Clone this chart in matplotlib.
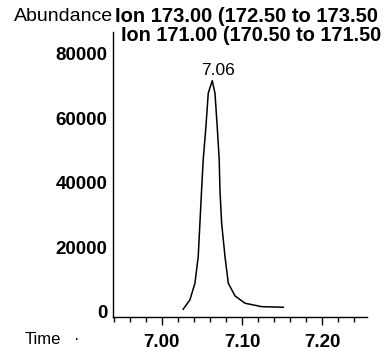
import numpy as np
import matplotlib
matplotlib.use("Agg")
import matplotlib.pyplot as plt
from matplotlib.ticker import MultipleLocator, FormatStrFormatter

plt.rcParams['font.family'] = ['Liberation Sans', 'DejaVu Sans']

# chromatogram trace (time in min, abundance)
time = [7.0266, 7.035, 7.0413, 7.0454, 7.0475, 7.0496, 7.0516, 7.055, 7.0579,
        7.0629, 7.0663, 7.0691, 7.0716, 7.0725, 7.0746, 7.0788, 7.0829,
        7.0913, 7.1038, 7.1246, 7.1516]
abundance = [840, 3720, 8900, 17140, 27500, 37800, 47100, 57400, 67800,
             71700, 67800, 57400, 47100, 37800, 27500, 17140, 8900,
             4960, 2700, 1640, 1460]

ion_lines = ["Ion 173.00 (172.50 to 173.50", "Ion 171.00 (170.50 to 171.50"]
y_ticks = [0, 20000, 40000, 60000, 80000]
x_ticks = [7.00, 7.10, 7.20]

fig = plt.figure(figsize=(3.84, 3.51), dpi=100)
ax = fig.add_axes([0.294, 0.097, 0.662, 0.812])

ax.plot(time, abundance, color='black', lw=1.1)

# peak label
i = int(np.argmax(abundance))
ax.annotate(f"{time[i]:.2f}", (time[i], abundance[i]), xytext=(4, 2),
            textcoords='offset points', ha='center', va='bottom', fontsize=12.5)

ax.set_xlim(6.939, 7.256)
ax.set_ylim(-1550, 86800)
ax.set_xticks(x_ticks)
ax.xaxis.set_major_formatter(FormatStrFormatter('%.2f'))
ax.xaxis.set_minor_locator(MultipleLocator(0.02))
ax.set_yticks(y_ticks)

ax.tick_params(axis='x', which='major', length=6, width=1, labelsize=13.5, pad=6)
ax.tick_params(axis='x', which='minor', length=3.5, width=1)
ax.tick_params(axis='y', length=0, labelsize=13.5, pad=4)
for lab in ax.get_xticklabels() + ax.get_yticklabels():
    lab.set_fontweight('bold')

for s in ['top', 'right']:
    ax.spines[s].set_visible(False)
ax.spines['left'].set_linewidth(1)
ax.spines['bottom'].set_linewidth(1)

fig.text(0.294, 0.952, "Abundance", ha='right', va='center', fontsize=14)
fig.text(0.300, 0.952, ion_lines[0], ha='left', va='center', fontsize=14.5,
         fontweight='bold')
fig.text(0.315, 0.900, ion_lines[1], ha='left', va='center', fontsize=14.3,
         fontweight='bold')
fig.text(0.065, 0.032, "Time", ha='left', va='center', fontsize=12)
fig.text(0.200, 0.032, "\u00b7", ha='center', va='center', fontsize=12)

fig.savefig("out.png", dpi=100)
